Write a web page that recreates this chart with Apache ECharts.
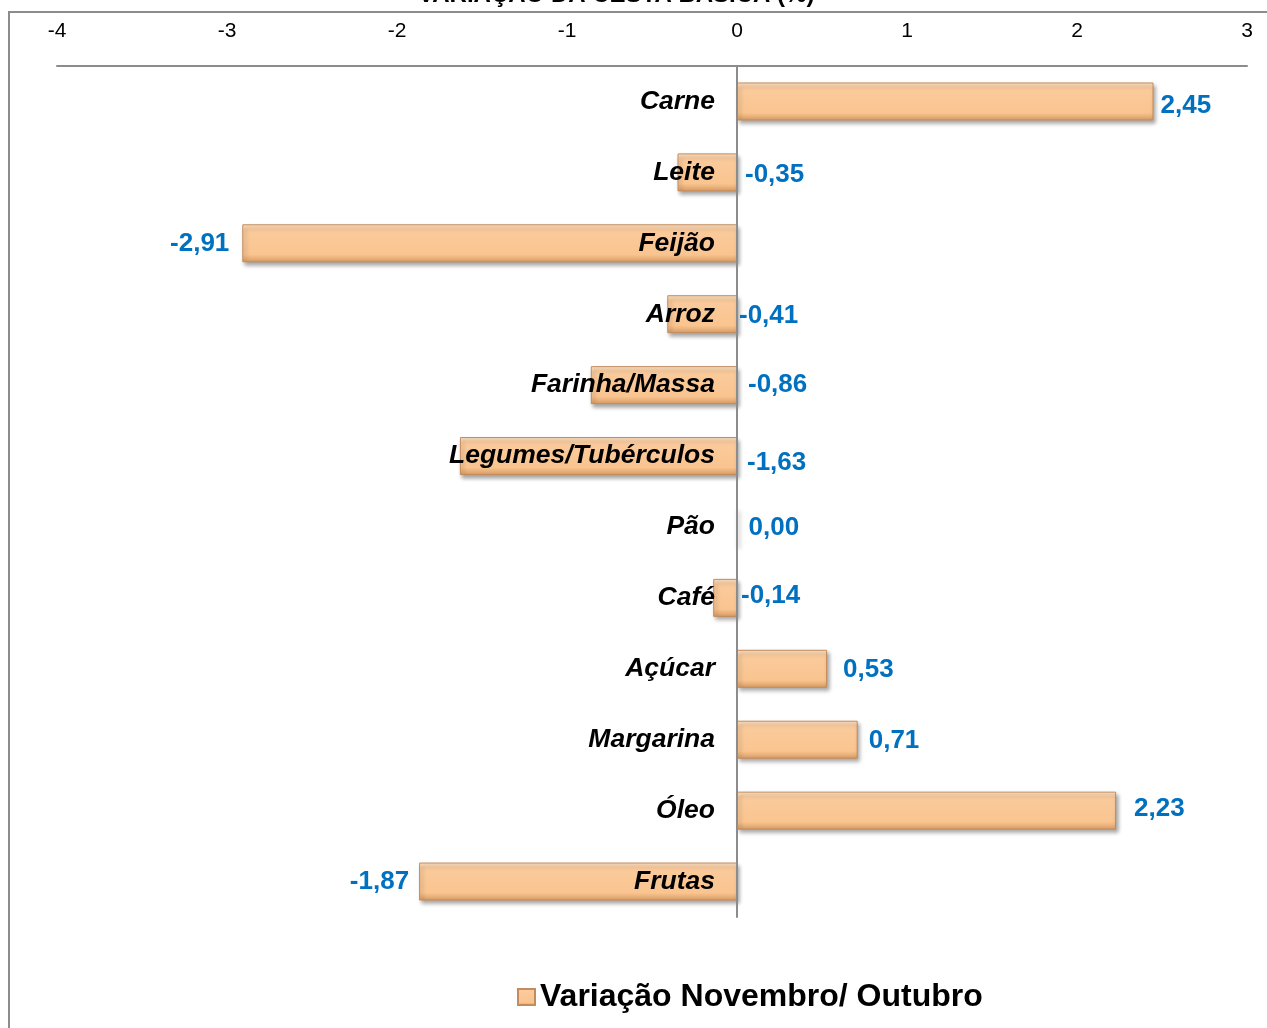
<!DOCTYPE html>
<html>
<head>
<meta charset="utf-8">
<script src="https://cdn.jsdelivr.net/npm/echarts@6/dist/echarts.min.js"></script>
<style>
  html, body { margin: 0; padding: 0; background: #fff; }
  #chart { width: 1267px; height: 1028px; }
</style>
</head>
<body>
<div id="chart"></div>
<script>
var categories = ['Carne', 'Leite', 'Feijão', 'Arroz', 'Farinha/Massa', 'Legumes/Tubérculos',
  'Pão', 'Café', 'Açúcar', 'Margarina', 'Óleo', 'Frutas'];
var variacao = [2.45, -0.35, -2.91, -0.41, -0.86, -1.63, 0.00, -0.14, 0.53, 0.71, 2.23, -1.87];
var seriesName = 'Variação Novembro/ Outubro';
var titleText = 'VARIAÇÃO DA CESTA BÁSICA (%)';

// where each value label sits: [side, distance, vertical offset]
var labelPlace = {
  'Carne': ['right', 7, 4],
  'Leite': ['right', 8, 2],
  'Feijão': ['left', 13, 1],
  'Arroz': ['right', 2, 2],
  'Farinha/Massa': ['right', 11, 0],
  'Legumes/Tubérculos': ['right', 10, 7],
  'Pão': ['right', 11, 1],
  'Café': ['right', 4, -2],
  'Açúcar': ['right', 16, 1],
  'Margarina': ['right', 11, 1],
  'Óleo': ['right', 18, -2],
  'Frutas': ['left', 10, 0]
};

var barColor = new echarts.graphic.LinearGradient(0, 0, 0, 1, [
  { offset: 0, color: '#FDE3C6' },
  { offset: 0.15, color: '#FBCB9C' },
  { offset: 0.8, color: '#F9C48F' },
  { offset: 1, color: '#D89A62' }
]);

function fmt(v) {
  return v.toFixed(2).replace('.', ',');
}

var barData = variacao.map(function(v, i) {
  var p = labelPlace[categories[i]];
  return {
    value: v,
    label: { position: p[0], distance: p[1], offset: [0, p[2]] }
  };
});

var gridLeft = 57, gridRight = 20, xMin = -4, xMax = 3;
var plotW = 1267 - gridLeft - gridRight;
// move the category axis (line + labels) onto the zero line
var zeroShift = -plotW * (0 - xMin) / (xMax - xMin);

var chart = echarts.init(document.getElementById('chart'));
chart.setOption({
  animation: false,
  title: {
    text: titleText,
    left: 418,
    top: -17,
    padding: 0,
    textStyle: { fontFamily: 'Liberation Sans', fontSize: 24, fontWeight: 'bold', color: '#000' }
  },
  graphic: [{
    type: 'rect',
    shape: { x: 9, y: 12, width: 1300, height: 1100 },
    style: { fill: 'none', stroke: '#8c8c8c', lineWidth: 2 },
    z: -1
  }],
  legend: {
    data: [seriesName],
    left: 512,
    top: 976,
    icon: 'rect',
    itemWidth: 17,
    itemHeight: 16,
    textStyle: { fontFamily: 'Liberation Sans', fontSize: 32, fontWeight: 'bold', color: '#000' }
  },
  grid: {
    left: gridLeft, right: gridRight, top: 66, bottom: 111,
    containLabel: false,
    outerBoundsMode: 'none'
  },
  xAxis: {
    type: 'value',
    position: 'top',
    min: xMin,
    max: xMax,
    interval: 1,
    axisLine: { show: true, lineStyle: { color: '#8c8c8c', width: 2 } },
    axisTick: { show: false },
    splitLine: { show: false },
    axisLabel: { margin: 24, fontFamily: 'Liberation Sans', fontSize: 21, color: '#000' }
  },
  yAxis: {
    type: 'category',
    data: categories,
    inverse: true,
    z: 10,
    offset: zeroShift,
    axisLine: { show: true, onZero: false, lineStyle: { color: '#8c8c8c', width: 2 } },
    axisTick: { show: false },
    axisLabel: {
      margin: 22,
      fontFamily: 'Liberation Sans',
      fontSize: 26.5,
      fontWeight: 'bold',
      fontStyle: 'italic',
      color: '#000'
    }
  },
  series: [{
    name: seriesName,
    type: 'bar',
    data: barData,
    barWidth: 38,
    itemStyle: {
      color: barColor,
      borderColor: '#C48C5C',
      borderWidth: 1,
      shadowColor: 'rgba(0,0,0,0.35)',
      shadowBlur: 4,
      shadowOffsetX: 2,
      shadowOffsetY: 3
    },
    label: {
      show: true,
      fontFamily: 'Liberation Sans',
      fontSize: 26,
      fontWeight: 'bold',
      color: '#0070C0',
      formatter: function(p) { return fmt(p.value); }
    }
  }]
});
</script>
</body>
</html>
